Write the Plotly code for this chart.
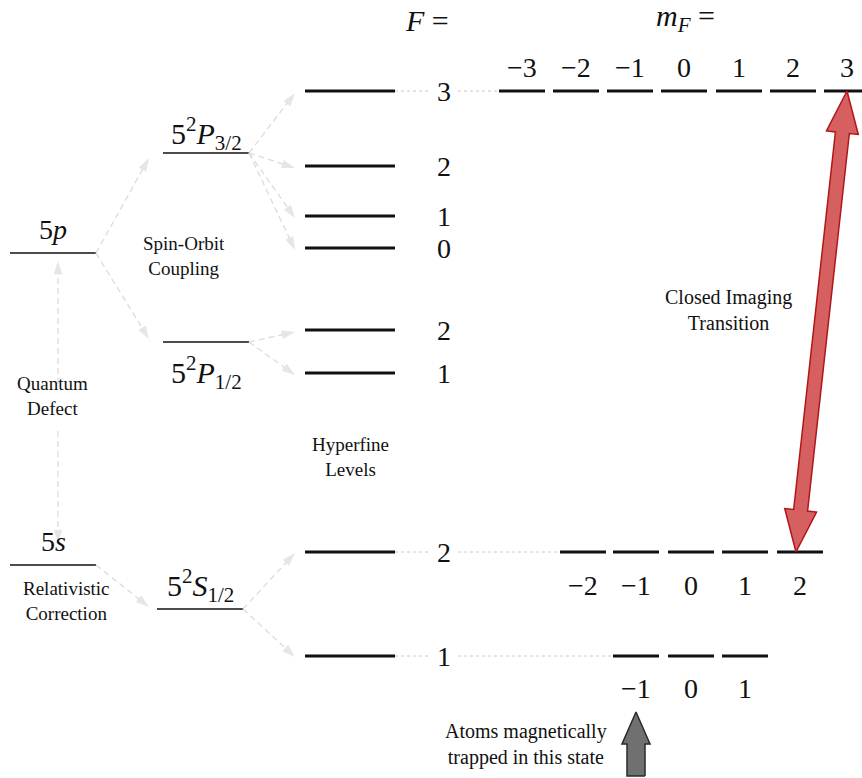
import numpy as np
import plotly.graph_objects as go

# ---- level data (energy axis runs downward on screen) ----
fine_x = [10, 96]                       # gross-structure column
gross_names = ["5<i>p</i>", "5<i>s</i>"]
gross_y = [253, 565]

fs_names = ["5<sup>2</sup><i>P</i><sub>3/2</sub>", "5<sup>2</sup><i>P</i><sub>1/2</sub>",
            "5<sup>2</sup><i>S</i><sub>1/2</sub>"]
fs_y = [153, 342, 609]
fs_x0 = [163, 163, 157]
fs_x1 = [249, 249, 243]
fs_label_dy = [-20, 30, -24]

hf_x = [305, 395]
hf_F = ["3", "2", "1", "0", "2", "1", "2", "1"]
hf_y = [91, 166, 216, 248, 330, 373, 552, 656]
hf_parent = [0, 0, 0, 0, 1, 1, 2, 2]

# Zeeman sublevels shown for three hyperfine levels
mF_top = [-3, -2, -1, 0, 1, 2, 3]
mF_top_x = [522, 576, 630, 684, 739, 793, 847]
mF_g2 = [-2, -1, 0, 1, 2]
mF_g2_x = [583, 636, 691, 745, 800]
mF_g1 = [-1, 0, 1]
mF_g1_x = [636, 691, 745]
sub_half = 23

LABEL_X = 444
FONT = "Liberation Serif, DejaVu Serif, serif"
INK = "#111111"
GUIDE = "#dcdcdc"

fig = go.Figure()


def seg(x, y, color=INK, width=3, dash=None):
    fig.add_trace(go.Scatter(x=x, y=y, mode="lines", hoverinfo="skip",
                             line=dict(color=color, width=width, dash=dash)))


def guide_arrow(x0, y0, x1, y1):
    fig.add_trace(go.Scatter(
        x=[x0, x1], y=[y0, y1], mode="lines+markers", hoverinfo="skip",
        line=dict(color=GUIDE, width=1.3, dash="6px,4px"),
        marker=dict(symbol=["circle", "arrow"], size=[0, 14], color=GUIDE,
                    angleref="previous", line=dict(width=0))))


def text(x, y, s, size=17, anchor="center"):
    fig.add_annotation(x=x, y=y, text=s, showarrow=False, xanchor=anchor,
                       yanchor="middle", font=dict(family=FONT, size=size, color=INK))


# gross structure
for name, y in zip(gross_names, gross_y):
    seg(fine_x, [y, y], width=1.5)
    text(sum(fine_x) / 2, y - 24, name, size=28)

# fine structure
for name, y, x0, x1, dy in zip(fs_names, fs_y, fs_x0, fs_x1, fs_label_dy):
    seg([x0, x1], [y, y], width=1.5)
    text((x0 + x1) / 2, y + dy, name, size=30)

# splitting guides: gross -> fine
guide_arrow(fine_x[1], gross_y[0], fs_x0[0] - 14, fs_y[0] + 5)
guide_arrow(fine_x[1], gross_y[0], fs_x0[1] - 14, fs_y[1] - 3)
guide_arrow(fine_x[1], gross_y[1], fs_x0[2] - 8, fs_y[2] - 2)
mid_q = (gross_y[0] + gross_y[1]) / 2
guide_arrow(58, mid_q - 25, 58, gross_y[0] + 8)
guide_arrow(58, mid_q + 22, 58, gross_y[1] - 22)

# hyperfine levels and guides from fine levels
for F, y, p in zip(hf_F, hf_y, hf_parent):
    seg(hf_x, [y, y], width=3)
    text(LABEL_X, y, F, size=28)
    guide_arrow(fs_x1[p], fs_y[p], hf_x[0] - 10, y + (2 if p != 2 else 1))

# dotted leaders from labelled hyperfine levels to their sublevels
for y, first_x in [(hf_y[0], mF_top_x[0]), (hf_y[6], mF_g2_x[0]), (hf_y[7], mF_g1_x[0])]:
    seg([hf_x[1], LABEL_X - 14], [y, y], color="#c8c8c8", width=1, dash="dot")
    seg([LABEL_X + 14, first_x - sub_half], [y, y], color="#c8c8c8", width=1, dash="dot")

# Zeeman sublevels
for ms, xs, y, dy in [(mF_top, mF_top_x, hf_y[0], -24),
                      (mF_g2, mF_g2_x, hf_y[6], 33),
                      (mF_g1, mF_g1_x, hf_y[7], 32)]:
    for m, x in zip(ms, xs):
        seg([x - sub_half, x + sub_half], [y, y], width=3)
        lab = ("\u2212" + str(-m)) if m < 0 else str(m)
        text(x, y + dy, lab, size=28)

text(427, 20, "<i>F</i> =", size=30)
text(685, 18, "<i>m<sub>F</sub></i> =", size=30)

# explanatory captions
text(184, 256, "Spin-Orbit<br>Coupling", size=19)
text(52, 396, "Quantum<br>Defect", size=19)
text(66, 601, "Relativistic<br>Correction", size=19)
text(350, 457, "Hyperfine<br>Levels", size=19)
text(728, 310, "Closed Imaging<br>Transition", size=20)
text(609, 744, "Atoms magnetically<br>trapped in this state", size=20, anchor="right")


def block_arrow(p0, p1, shaft, head_w, head_l, double):
    """Outline of a block arrow from p0 to p1 (head at p1, optionally at p0)."""
    p0 = np.array(p0, float)
    p1 = np.array(p1, float)
    d = (p1 - p0) / np.linalg.norm(p1 - p0)
    n = np.array([-d[1], d[0]])
    a = p0 + d * head_l if double else p0
    b = p1 - d * head_l
    pts = []
    if double:
        pts += [p0, a + n * head_w, a + n * shaft]
    else:
        pts += [p0 + n * shaft]
    pts += [b + n * shaft, b + n * head_w, p1, b - n * head_w, b - n * shaft]
    if double:
        pts += [a - n * shaft, a - n * head_w, p0]
    else:
        pts += [p0 - n * shaft, p0 + n * shaft]
    pts = np.array(pts)
    return pts[:, 0], pts[:, 1]


# closed imaging transition: F=2, mF=2  <->  F'=3, mF'=3
rx, ry = block_arrow((mF_g2_x[-1] - 4, hf_y[6]), (mF_top_x[-1], hf_y[0]),
                     7, 16, 42, True)
fig.add_trace(go.Scatter(x=rx, y=ry, mode="lines", fill="toself", hoverinfo="skip",
                         fillcolor="#d65f5f", line=dict(color="#b0161a", width=1.5)))

# trapped state marker under F=1, mF=-1
gx, gy = block_arrow((mF_g1_x[0], 776), (mF_g1_x[0], 712), 9, 14, 32, False)
fig.add_trace(go.Scatter(x=gx, y=gy, mode="lines", fill="toself", hoverinfo="skip",
                         fillcolor="#707070", line=dict(color="#2a2a2a", width=1.5)))

fig.update_layout(
    width=862, height=778, showlegend=False,
    margin=dict(l=0, r=0, t=0, b=0),
    paper_bgcolor="white", plot_bgcolor="white",
    xaxis=dict(range=[0, 862], visible=False, fixedrange=True),
    yaxis=dict(range=[778, 0], visible=False, fixedrange=True),
)

fig.write_html("out.html")
